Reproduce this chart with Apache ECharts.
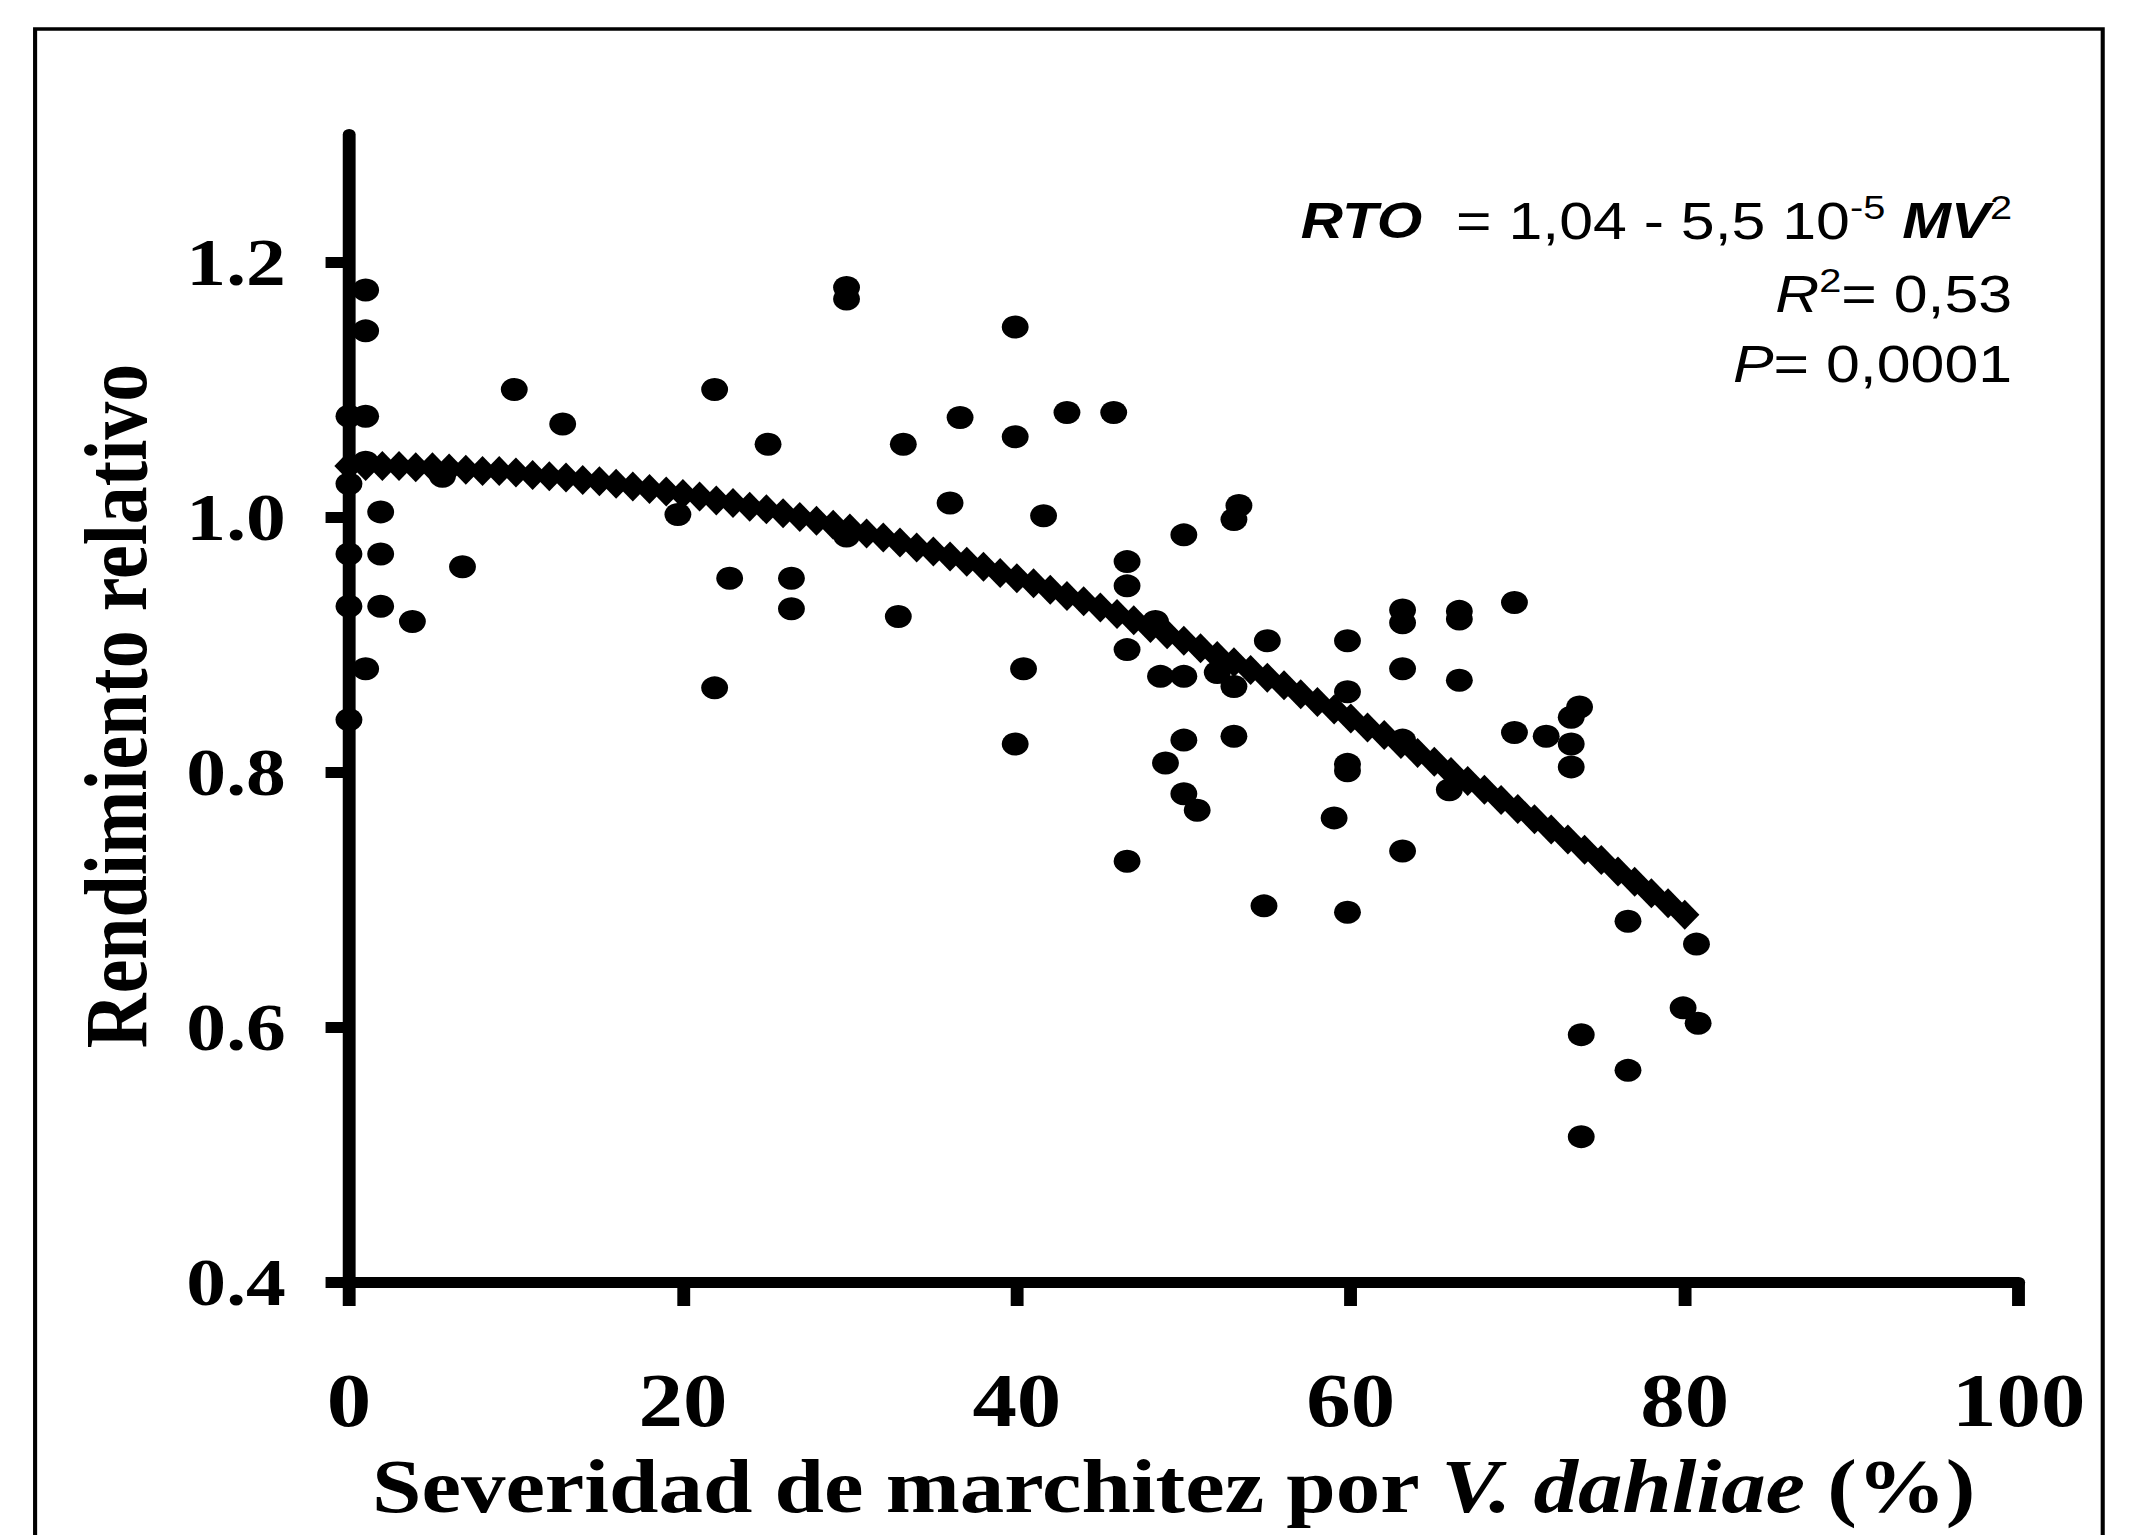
<!DOCTYPE html>
<html>
<head>
<meta charset="utf-8">
<script src="https://cdn.jsdelivr.net/npm/echarts@6/dist/echarts.min.js"></script>
<style>
  html, body { margin: 0; padding: 0; background: #ffffff; overflow: hidden; }
  #wrap { width: 2129px; height: 1535px; overflow: hidden; position: relative; background: #ffffff; }
  #chart { width: 1820px; height: 1535px; transform: scaleX(1.1698); transform-origin: 0 0; }
</style>
</head>
<body>
<div id="wrap"><div id="chart"></div></div>
<script>
// ---- Data ----
// Observed points: wilt severity (%) and relative yield
const severity = [
  0, 0, 0, 0, 0,
  1, 1, 1, 1, 1,
  1.9, 1.9, 1.9,
  3.8, 5.6, 6.8, 9.9, 12.8, 19.7,
  21.9, 21.9, 22.8, 25.1,
  26.5, 26.5,
  29.8, 29.8, 29.8,
  32.9, 33.2, 36.0, 36.6,
  39.9, 39.9, 39.9,
  40.4, 41.6, 43.0, 45.8,
  46.6, 46.6, 46.6, 46.6,
  48.3, 48.6, 48.9,
  50.0, 50.0, 50.0, 50.0,
  50.8, 52.0,
  53.0, 53.0, 53.0,
  53.3, 54.8, 55.0, 59.0,
  59.8, 59.8, 59.8, 59.8, 59.8,
  63.1, 63.1, 63.1, 63.1, 63.1,
  65.9,
  66.5, 66.5, 66.5,
  69.8, 69.8, 71.7,
  73.2, 73.2, 73.2,
  73.7, 73.8, 73.8,
  76.6, 76.6, 79.9, 80.7, 80.8
];
const relativeYield = [
  1.079, 1.026, 0.971, 0.930, 0.841,
  1.178, 1.146, 1.079, 1.043, 0.881,
  1.004, 0.971, 0.930,
  0.918, 1.032, 0.961, 1.100, 1.073, 1.002,
  1.100, 0.866, 0.952, 1.057,
  0.952, 0.928,
  1.180, 1.171, 0.985,
  0.922, 1.057, 1.011, 1.078,
  1.149, 1.063, 0.822,
  0.881, 1.001, 1.082, 1.082,
  0.965, 0.946, 0.896, 0.730,
  0.918, 0.875, 0.807,
  0.986, 0.875, 0.825, 0.783,
  0.770, 0.878,
  0.998, 0.867, 0.828,
  1.009, 0.695, 0.903, 0.764,
  0.903, 0.863, 0.806, 0.801, 0.690,
  0.927, 0.917, 0.881, 0.825, 0.738,
  0.786,
  0.926, 0.920, 0.872,
  0.933, 0.831, 0.828,
  0.843, 0.822, 0.804,
  0.851, 0.594, 0.514,
  0.683, 0.566, 0.615, 0.665, 0.603
];
// Fitted curve drawn as diamond markers
const fitSeverity = [
  0, 1, 2, 3, 4, 5, 6, 7, 8, 9,
  10, 11, 12, 13, 14, 15, 16, 17, 18, 19,
  20, 21, 22, 23, 24, 25, 26, 27, 28, 29,
  30, 31, 32, 33, 34, 35, 36, 37, 38, 39,
  40, 41, 42, 43, 44, 45, 46, 47, 48, 49,
  50, 51, 52, 53, 54, 55, 56, 57, 58, 59,
  60, 61, 62, 63, 64, 65, 66, 67, 68, 69,
  70, 71, 72, 73, 74, 75, 76, 77, 78, 79,
  80
];
const fitYield = [
  1.040, 1.040, 1.040, 1.040, 1.039, 1.039, 1.038, 1.037, 1.036, 1.036,
  1.035, 1.033, 1.032, 1.031, 1.029, 1.028, 1.026, 1.024, 1.022, 1.020,
  1.018, 1.016, 1.013, 1.011, 1.008, 1.006, 1.003, 1.000, 0.997, 0.994,
  0.991, 0.987, 0.984, 0.980, 0.976, 0.973, 0.969, 0.965, 0.961, 0.956,
  0.952, 0.948, 0.943, 0.938, 0.934, 0.929, 0.924, 0.919, 0.913, 0.908,
  0.903, 0.897, 0.891, 0.886, 0.880, 0.874, 0.868, 0.861, 0.855, 0.849,
  0.842, 0.835, 0.829, 0.822, 0.815, 0.808, 0.800, 0.793, 0.786, 0.778,
  0.771, 0.763, 0.755, 0.747, 0.739, 0.731, 0.722, 0.714, 0.705, 0.697,
  0.688
];
const xTickValues = [0, 20, 40, 60, 80, 100];
const yTickValues = [0.4, 0.6, 0.8, 1.0, 1.2];
const xAxisTitle = ['Severidad de marchitez por ', 'V. dahliae', ' (%)'];
const yAxisTitle = 'Rendimiento relativo';
const equationLines = {
  rto: 'RTO', eq: '  = 1,04 - 5,5 10', exp: '-5', mv: 'MV', sq: '2',
  r2: '= 0,53', p: '= 0,0001'
};

// ---- Chart ----
const chart = echarts.init(document.getElementById('chart'), null, { renderer: 'svg' });
const serif = '"Liberation Serif", "Times New Roman", serif';
const sans = '"Liberation Sans", Arial, sans-serif';

const obsData = severity.map((x, i) => [x, relativeYield[i]]);
const fitData = fitSeverity.map((x, i) => [x, fitYield[i]]);

const baseTok = { fontFamily: sans, fontSize: 52, fill: '#000', lineHeight: 60, verticalAlign: 'middle' };
const richSans = {
  n: Object.assign({}, baseTok),
  bi: Object.assign({}, baseTok, { fontSize: 50, fontWeight: 'bold', fontStyle: 'italic' }),
  i: Object.assign({}, baseTok, { fontStyle: 'italic' }),
  s: { fontFamily: sans, fontSize: 34, fill: '#000', lineHeight: 34, verticalAlign: 'top' }
};

const option = {
  backgroundColor: '#ffffff',
  animation: false,
  grid: { left: 298.3, top: 134.5, width: 1427.4, height: 1147.5, containLabel: false, outerBoundsMode: 'none' },
  xAxis: {
    type: 'value', min: 0, max: 100, interval: 20,
    axisLine: { show: true, onZero: false, lineStyle: { color: '#000', width: 11 } },
    axisTick: { show: true, length: 24, customValues: xTickValues, lineStyle: { color: '#000', width: 11 } },
    axisLabel: {
      customValues: xTickValues,
      fontFamily: serif, fontWeight: 'bold', fontSize: 76, color: '#000', margin: 80
    },
    splitLine: { show: false }
  },
  yAxis: {
    type: 'value', min: 0.4, max: 1.3, interval: 0.2,
    axisLine: { show: true, onZero: false, lineStyle: { color: '#000', width: 11 } },
    axisTick: { show: true, length: 20, customValues: yTickValues, lineStyle: { color: '#000', width: 11 } },
    axisLabel: {
      customValues: yTickValues,
      formatter: v => (Math.abs(v - 1.3) < 1e-6 ? '' : Number(v).toFixed(1)),
      fontFamily: serif, fontWeight: 'bold', fontSize: 68, color: '#000', margin: 54
    },
    splitLine: { show: false }
  },
  series: [
    {
      name: 'ajuste', type: 'scatter', data: fitData, symbol: 'diamond', symbolSize: [25, 30],
      itemStyle: { color: '#000', opacity: 1 }, clip: false, silent: true, z: 3
    },
    {
      name: 'observado', type: 'scatter', data: obsData, symbol: 'circle', symbolSize: 23,
      itemStyle: { color: '#000', opacity: 1 }, clip: false, silent: true, z: 4
    }
  ],
  graphic: [
    {
      type: 'rect', silent: true, z: 0,
      shape: { x: 30, y: 29, width: 1767.5, height: 1700 },
      style: { fill: 'none', stroke: '#000', lineWidth: 3.5 }
    },
    {
      type: 'text', silent: true, x: 99, y: 706, rotation: Math.PI / 2,
      style: {
        text: yAxisTitle, fontFamily: serif, fontWeight: 'bold', fontSize: 76,
        fill: '#000', align: 'center', verticalAlign: 'middle'
      }
    },
    {
      type: 'text', silent: true, x: 1003, y: 1486,
      style: {
        text: '{b|' + xAxisTitle[0] + '}{bi|' + xAxisTitle[1] + '}{b|' + xAxisTitle[2] + '}',
        align: 'center', verticalAlign: 'middle',
        rich: {
          b: { fontFamily: serif, fontWeight: 'bold', fontSize: 76, fill: '#000' },
          bi: { fontFamily: serif, fontWeight: 'bold', fontStyle: 'italic', fontSize: 76, fill: '#000' }
        }
      }
    },
    {
      type: 'text', silent: true, x: 1720, y: 221,
      style: {
        text: '{bi|' + equationLines.rto + '}{n|' + equationLines.eq + '}{s|' + equationLines.exp +
              '}{n| }{bi|' + equationLines.mv + '}{s|' + equationLines.sq + '}',
        align: 'right', verticalAlign: 'middle', rich: richSans
      }
    },
    {
      type: 'text', silent: true, x: 1720, y: 294,
      style: {
        text: '{i|R}{s|2}{n|' + equationLines.r2 + '}',
        align: 'right', verticalAlign: 'middle', rich: richSans
      }
    },
    {
      type: 'text', silent: true, x: 1720, y: 364,
      style: {
        text: '{i|P}{n|' + equationLines.p + '}',
        align: 'right', verticalAlign: 'middle', rich: richSans
      }
    }
  ]
};
chart.setOption(option);
</script>
</body>
</html>
